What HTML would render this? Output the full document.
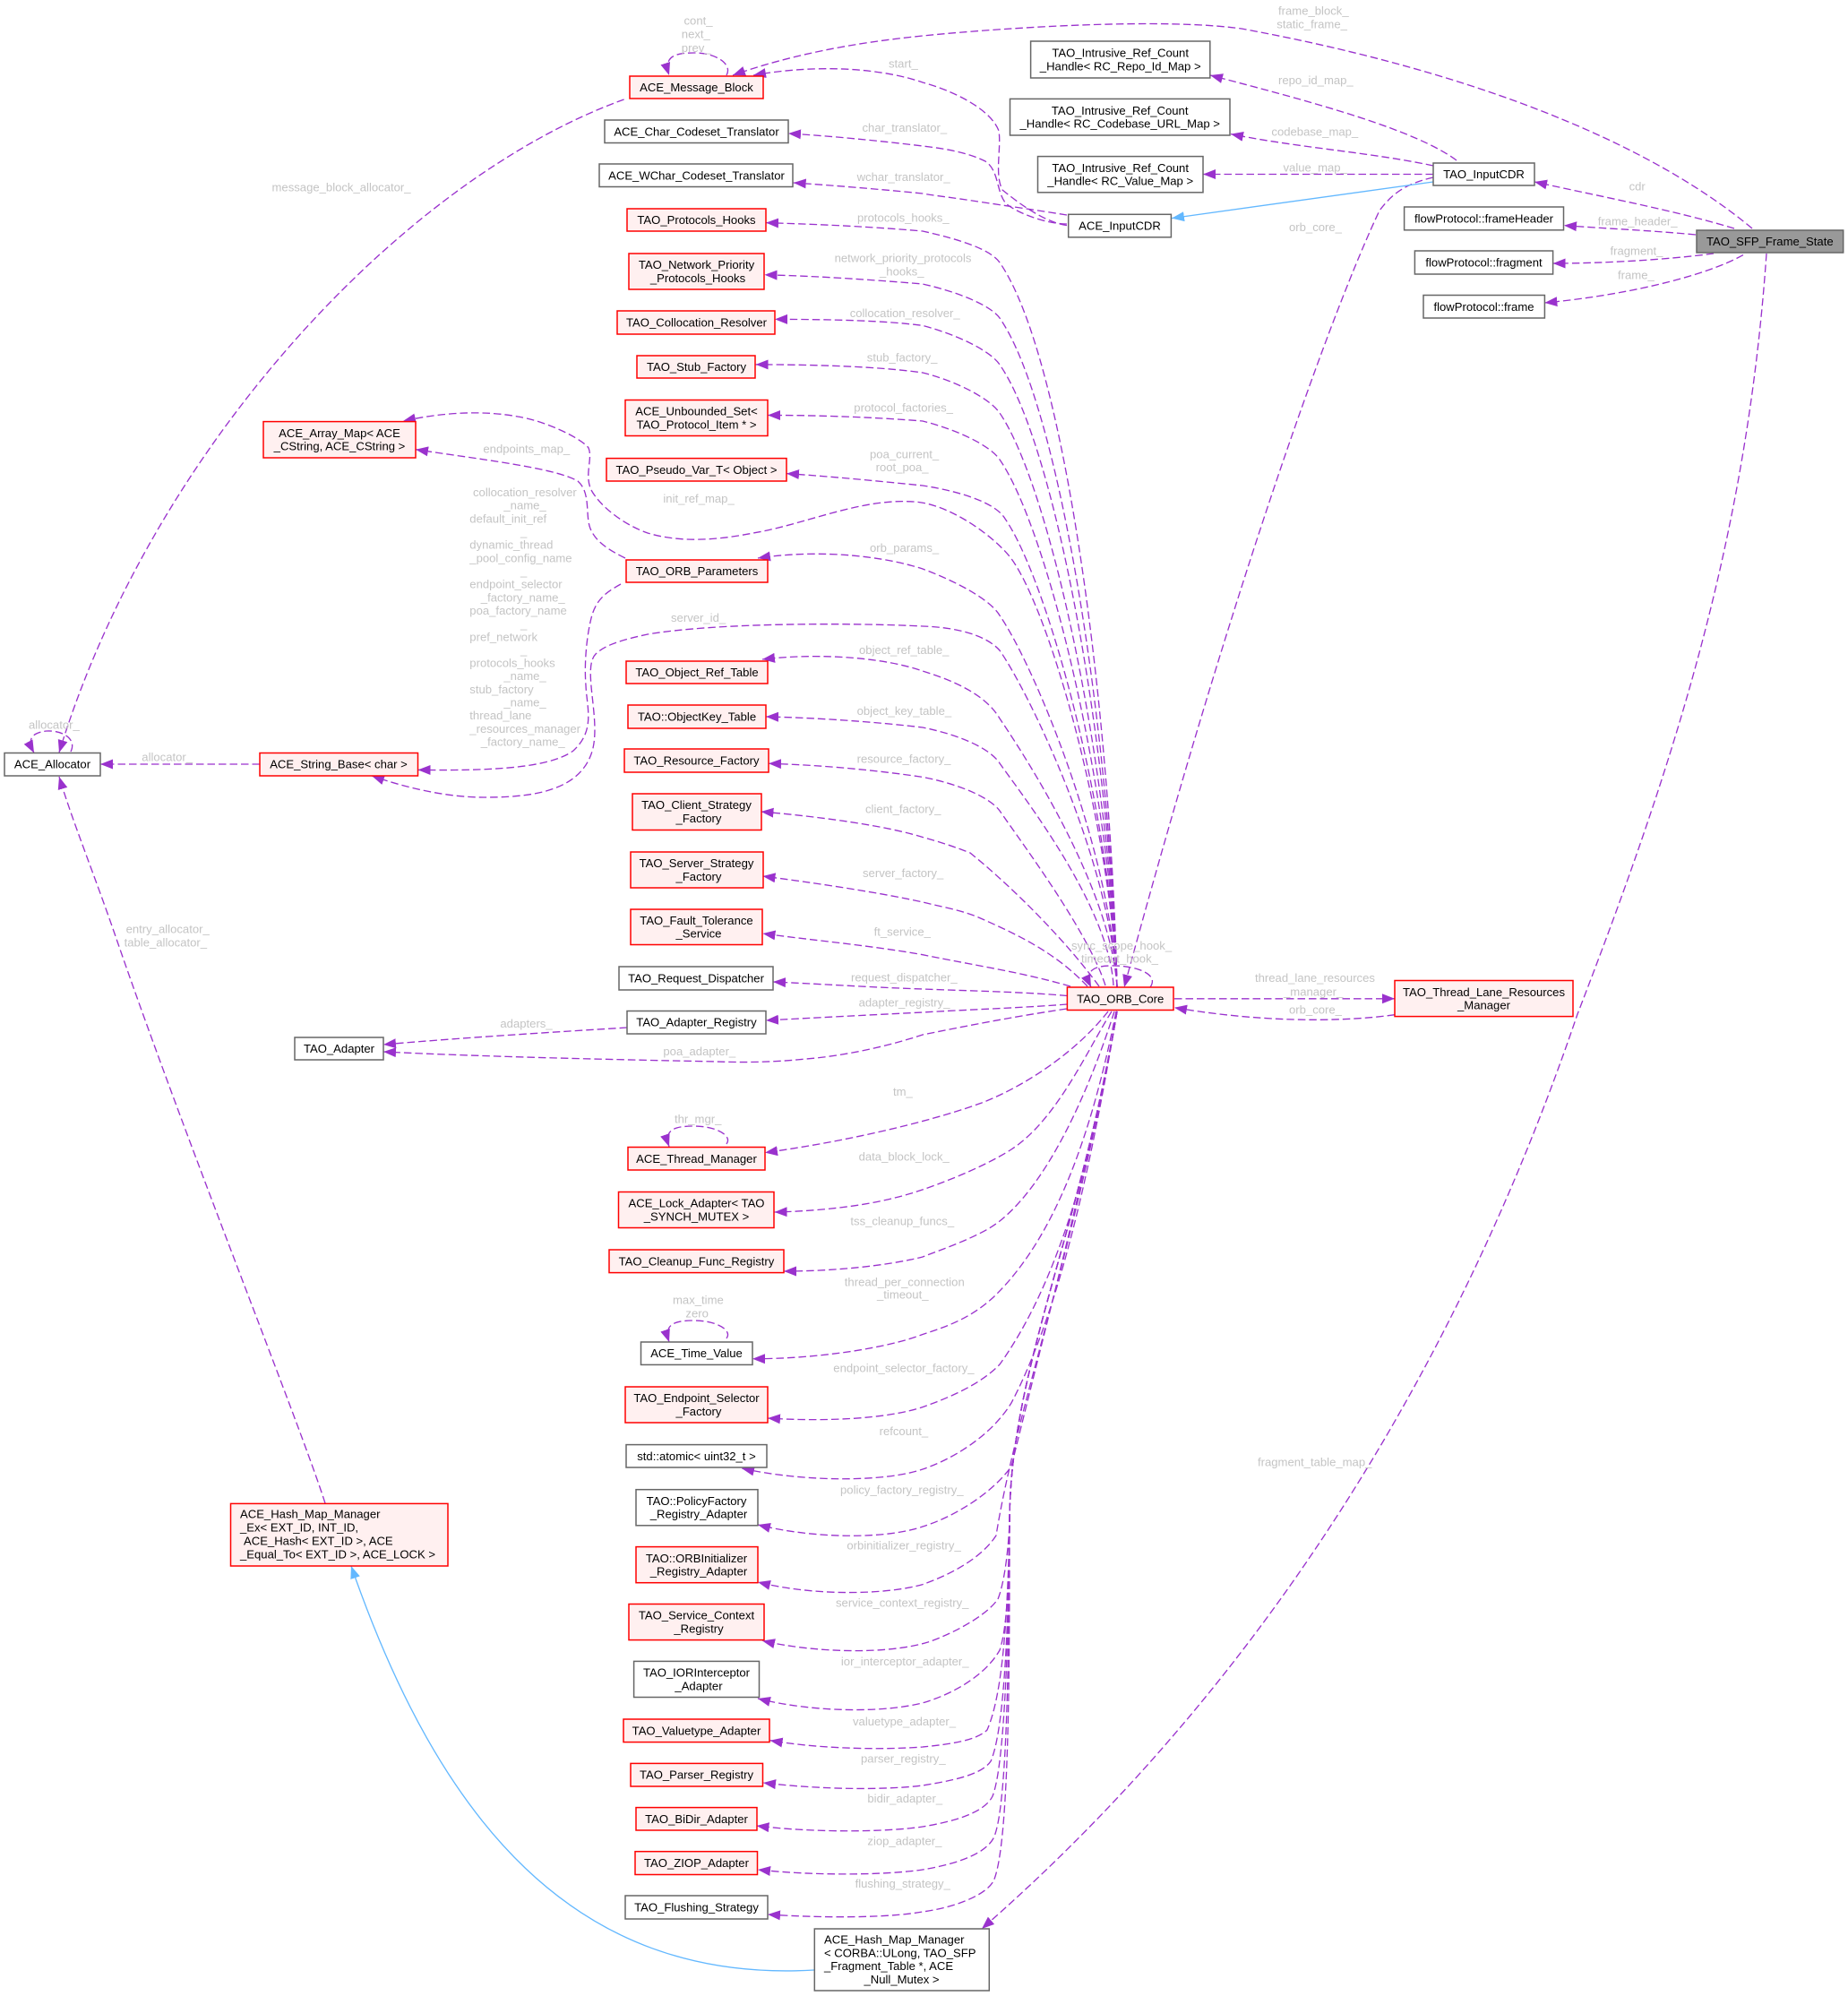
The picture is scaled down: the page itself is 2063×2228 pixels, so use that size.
<!DOCTYPE html>
<html><head><meta charset="utf-8"><title>TAO_SFP_Frame_State</title>
<style>
html,body{margin:0;padding:0;background:#fff}
svg{display:block}
text{font-family:"Liberation Sans",sans-serif;font-size:13.1px}
.n text{text-anchor:middle;fill:#000}
.l text{fill:#c4c4c4}
.r{fill:#fff0f0;stroke:#ff0000;stroke-width:1.5}
.w{fill:#fff;stroke:#666;stroke-width:1.5}
.e path{fill:none;stroke:#9a32cd;stroke-width:1.33;stroke-dasharray:8.5 4;marker-end:url(#p)}
.b path{fill:none;stroke:#63b8ff;stroke-width:1.33;marker-end:url(#q)}
</style></head><body>
<svg xmlns="http://www.w3.org/2000/svg" width="2063" height="2228" viewBox="0 0 2063 2228">
<defs>
<marker id="p" markerUnits="userSpaceOnUse" markerWidth="16" markerHeight="13" refX="14" refY="6" orient="auto"><path d="M0 .5L14 6L0 11.5z" fill="#9a32cd"/></marker>
<marker id="q" markerUnits="userSpaceOnUse" markerWidth="16" markerHeight="13" refX="14" refY="6" orient="auto"><path d="M0 .5L14 6L0 11.5z" fill="#63b8ff"/></marker>
</defs>
<rect width="2063" height="2228" fill="#fff"/>
<g class="e">
<path d="M1956 255C1830 150 1620 75 1386 32C1300 20 1130 30 1030 40C950 48 880 62 818 84"/>
<path d="M1191 251.6C1165 248 1135 225 1119 212C1110 195 1118 165 1115 146C1105 120 1060 100 1030 92C990 78 920 70 841 84"/>
<path d="M811 84C818 72 800 59 775 59C755 59 740 62 747 84"/>
<path d="M1191 250C1165 250 1130 235 1122 226C1112 212 1115 190 1100 180C1080 170 1055 166 1030 163C980 157 930 152 880 149"/>
<path d="M1191 240C1160 235 1125 230 1096 225.6C1060 220 1040 218 1030 216C980 211 930 207 885.7 204"/>
<path d="M1626 179C1580 145 1470 115 1351 84"/>
<path d="M1600 185C1530 170 1450 165 1374 149.6"/>
<path d="M1600 194.5L1343 194.5"/>
<path d="M1600 198C1570 205 1555 215 1540 235C1490 340 1380 640 1255 1102"/>
<path d="M1936 255C1870 235 1790 220 1713 203"/>
<path d="M1893 262C1840 257 1790 255 1746 251.6"/>
<path d="M1913 283C1860 290 1790 294 1733.6 294"/>
<path d="M1946 284.6C1900 310 1810 330 1724.4 338"/>
<path d="M1972 283C1950 600 1870 850 1761 1132C1680 1370 1500 1800 1096 2153"/>
<path d="M1311 1114.8L1557 1114.8"/>
<path d="M1557 1132.7C1490 1142 1400 1140 1311 1124.7"/>
<path d="M1284 1102C1296 1085 1260 1077 1240 1078C1220 1078 1210 1085 1218 1102"/>

<path d="M1247 1102C1240 801 1190 400 1116 293C1106 279 1075 268 1030 258C960 252 900 250 855 248.6"/>
<path d="M1247 1102C1240 826 1184 453 1116 355C1106 341 1070 326 1030 317C970 312 910 308 853.5 306.8"/>
<path d="M1247 1102C1240 845 1180 499 1116 407C1106 392 1070 374 1030 363.4C990 358 930 356.4 865 356.4"/>
<path d="M1247 1102C1240 865 1174 546 1116 461C1106 446 1070 426 1030 416C980 409 910 407 843.6 406.9"/>
<path d="M1247 1102C1240 884 1170 591 1116 513C1106 498 1070 480 1030 470C980 466 920 463.5 857 463.5"/>
<path d="M1247 1102C1240 908 1170 649 1122 579C1112 562 1075 549 1030 542C980 537 930 532 878 528.6"/>
<path d="M1247 1102C1240 925 1174 688 1130 625C1112 600 1060 562 1020 560C960 556 900 585 841 595C800 603 760 606 723 595C695 585 670 565 660 547C652 530 662 512 657 500C650 490 610 470 578 465C540 458 495 460 450 470"/>
<path d="M1247 1102C1240 948 1154 742 1116 687C1106 670 1070 650 1030 635C990 622 920 612 846 623"/>
<path d="M1247 1102C1240 963 1150 775 1116 726C1100 708 1065 700 1030 699C950 695 800 695 723 708C695 714 675 720 665 730C650 745 670 800 662 835C650 885 590 890 540 890C500 890 455 880 415 866"/>
<path d="M693 652C675 662 665 670 660 690C655 710 652 740 654 765C655 790 665 815 640 838C610 860 530 860 466.5 859.4"/>
<path d="M698 623C680 614 665 605 659 590C653 575 660 550 645 537C620 522 530 512 464 501.7"/>
<path d="M1247 1102C1240 990 1143 842 1116 802C1100 775 1065 760 1030 749C990 735 920 728 851 736"/>
<path d="M1243 1100C1238 1010 1139 885 1116 852C1105 835 1070 820 1030 812C980 806 910 801 855 800"/>
<path d="M1234 1100C1215 1040 1140 940 1116 905C1105 890 1070 875 1030 867.4C980 860 920 854 858 852.3"/>
<path d="M1227 1101C1190 1050 1130 990 1083 952C1065 945 1050 940 1030 934.5C990 922 920 912 849.5 906"/>
<path d="M1214 1101C1180 1065 1140 1045 1096 1025.6C1075 1016 1050 1012 1030 1007C1000 1000 930 988 851.5 978"/>
<path d="M1195 1101C1140 1085 1090 1078 1030 1065.7C970 1055 910 1050 851.5 1042"/>
<path d="M1191.4 1111.5C1140 1107 1080 1106 1030 1104C970 1102 910 1098 863 1096"/>
<path d="M1191.4 1121C1140 1125 1080 1127 1030 1130C970 1133 910 1136 855 1139"/>
<path d="M1191 1126C1130 1135 1080 1145 1030 1155C1000 1165 950 1178 900 1182C860 1186 830 1186 800 1185C700 1183 550 1180 428 1174"/>
<path d="M700 1147C620 1152 520 1158 428 1166"/>

<path d="M1237 1129C1205 1170 1150 1210 1096 1231C1050 1248 960 1272 854 1286.6"/>
<path d="M1241 1129C1215 1170 1180 1250 1129 1283C1095 1305 1030 1330 999 1337C960 1347 910 1352 864.6 1353"/>
<path d="M1244 1129C1215 1220 1170 1320 1116 1363C1095 1380 1050 1395 1030 1403C990 1413 930 1419 875 1419"/>
<path d="M1246 1129C1220 1260 1180 1380 1109 1448C1085 1470 1060 1480 1030 1489.5C990 1505 910 1517 840 1516.7"/>
<path d="M1247 1129C1225 1260 1190 1420 1116 1523C1095 1545 1060 1560 1030 1570.6C990 1584 920 1587 857 1583"/>
<path d="M1247 1129C1225 1260 1190 1450 1129 1566C1105 1605 1060 1630 1030 1640C990 1654 900 1655 828 1639"/>
<path d="M1247 1129C1220 1280 1175 1450 1129 1637C1105 1670 1060 1695 1030 1704C990 1718 910 1718 846 1702"/>
<path d="M1247 1129C1205 1380 1135 1570 1112 1714C1095 1740 1060 1758 1030 1768.6C990 1780 910 1782 846 1766"/>
<path d="M1247 1129C1205 1380 1127 1530 1127 1700C1125 1740 1120 1770 1114 1785C1100 1805 1060 1825 1036 1833C990 1847 910 1845 851 1831.5"/>
<path d="M1247 1129C1205 1380 1127 1530 1127 1700C1126 1760 1125 1815 1116 1842C1100 1870 1065 1890 1033 1900C990 1912 910 1912 846 1896"/>
<path d="M1247 1129C1205 1380 1127 1530 1127 1700C1125 1800 1120 1890 1102 1931C1090 1943 1060 1947 1030 1950C990 1953 920 1953 859.6 1942.7"/>
<path d="M1247 1129C1205 1380 1127 1530 1127 1700C1126 1800 1122 1930 1106 1966C1095 1982 1060 1988 1030 1993C990 1998 920 1998 852 1990"/>
<path d="M1247 1129C1205 1380 1127 1530 1127 1700C1126 1820 1122 1970 1108 2005C1098 2025 1060 2034 1030 2039C990 2045 910 2046 844.5 2038"/>
<path d="M1247 1129C1205 1380 1127 1530 1127 1700C1126 1840 1125 2020 1109 2052C1098 2072 1060 2082 1030 2087C990 2093 910 2094 846 2087"/>
<path d="M1247 1129C1205 1380 1127 1530 1127 1700C1127 1860 1127 2060 1109 2100C1098 2118 1060 2130 1030 2134C990 2141 920 2141 857 2137"/>

<path d="M811 1277C818 1268 800 1257 775 1257C755 1257 740 1260 747 1280"/>
<path d="M811 1494C818 1485 800 1474 775 1474C755 1474 740 1477 747 1498"/>
<path d="M79 839C86 825 70 815 52 816C35 818 30 825 38 840.5"/>
<path d="M696.6 111C450 200 170 500 66 840"/>
<path d="M363 1678C335 1590 210 1280 131 1051C105 975 82 920 66 867"/>
<path d="M290 853L112 853"/>
</g>
<g class="b">
<path d="M1600 203L1308 243.6"/>
<path d="M909 2199C640 2215 490 2030 392 1748"/>
</g>

<g class="l">
<text x="763.5" y="27.6">cont_</text><text x="760.8" y="42.4">next_</text><text x="760.8" y="58">prev_</text>
<text x="303.5" y="213.7">message_block_allocator_</text>
<text x="992" y="75.4">start_</text>
<text x="962.5" y="147">char_translator_</text>
<text x="956.6" y="202">wchar_translator_</text>
<text x="957" y="247.7">protocols_hooks_</text>
<text x="931.6" y="292.6">network_priority_protocols</text>
<text x="982" y="307.6">_hooks_</text>
<text x="948.7" y="354">collocation_resolver_</text>
<text x="967.8" y="403.4">stub_factory_</text>
<text x="953.3" y="459.6">protocol_factories_</text>
<text x="971" y="511.5">poa_current_</text>
<text x="977.6" y="526">root_poa_</text>
<text x="740.4" y="561">init_ref_map_</text>
<text x="539.4" y="505.7">endpoints_map_</text>
<text x="971" y="615.8">orb_params_</text>
<text x="749" y="694">server_id_</text>
<text x="959" y="730">object_ref_table_</text>
<text x="528" y="554">collocation_resolver</text>
<text x="562.4" y="568.7">_name_</text>
<text x="524.3" y="583.3">default_init_ref</text>
<text x="581" y="598">_</text>
<text x="524.3" y="612.5">dynamic_thread</text>
<text x="524.3" y="627.6">_pool_config_name</text>
<text x="581" y="641.8">_</text>
<text x="524.3" y="656.5">endpoint_selector</text>
<text x="536.8" y="671.5">_factory_name_</text>
<text x="524.3" y="685.8">poa_factory_name</text>
<text x="581" y="700.8">_</text>
<text x="524.3" y="715.4">pref_network</text>
<text x="581" y="730">_</text>
<text x="524.3" y="744.7">protocols_hooks</text>
<text x="562.4" y="759">_name_</text>
<text x="524.3" y="773.8">stub_factory</text>
<text x="562.4" y="788.5">_name_</text>
<text x="524.3" y="803">thread_lane</text>
<text x="524.3" y="818">_resources_manager</text>
<text x="536.8" y="832.4">_factory_name_</text>
<text x="32" y="813.6">allocator_</text>
<text x="158.3" y="849.4">allocator_</text>
<text x="956.6" y="798">object_key_table_</text>
<text x="956.6" y="851.3">resource_factory_</text>
<text x="966" y="907.4">client_factory_</text>
<text x="963" y="979">server_factory_</text>
<text x="975.6" y="1044.4">ft_service_</text>
<text x="950" y="1095.3">request_dispatcher_</text>
<text x="958.6" y="1123.6">adapter_registry_</text>
<text x="558.4" y="1147.2">adapters_</text>
<text x="740.4" y="1178">poa_adapter_</text>
<text x="997" y="1223.2">tm_</text>
<text x="753" y="1253.4">thr_mgr_</text>
<text x="958.6" y="1295.4">data_block_lock_</text>
<text x="949.4" y="1367.6">tss_cleanup_funcs_</text>
<text x="942.8" y="1435.6">thread_per_connection</text>
<text x="979" y="1449.3">_timeout_</text>
<text x="751" y="1455.4">max_time</text>
<text x="765.4" y="1470.5">zero</text>
<text x="140.6" y="1041.6">entry_allocator_</text>
<text x="138.6" y="1056.6">table_allocator_</text>
<text x="930.3" y="1531.3">endpoint_selector_factory_</text>
<text x="981.6" y="1602">refcount_</text>
<text x="938" y="1667.3">policy_factory_registry_</text>
<text x="945.4" y="1729.3">orbinitializer_registry_</text>
<text x="933" y="1793.7">service_context_registry_</text>
<text x="938.9" y="1859">ior_interceptor_adapter_</text>
<text x="952" y="1925.8">valuetype_adapter_</text>
<text x="961" y="1967.3">parser_registry_</text>
<text x="968.4" y="2012.2">bidir_adapter_</text>
<text x="968.4" y="2059.4">ziop_adapter_</text>
<text x="954.6" y="2107">flushing_strategy_</text>
<text x="1427" y="16.4">frame_block_</text>
<text x="1425.3" y="31.5">static_frame_</text>
<text x="1427" y="93.8">repo_id_map_</text>
<text x="1419.4" y="151.4">codebase_map_</text>
<text x="1432.5" y="191.5">value_map_</text>
<text x="1818.6" y="212.3">cdr</text>
<text x="1783.7" y="251.5">frame_header_</text>
<text x="1797.5" y="284.5">fragment_</text>
<text x="1806" y="311.4">frame_</text>
<text x="1439" y="258">orb_core_</text>
<text x="1196" y="1060">sync_scope_hook_</text>
<text x="1207" y="1074.6">timeout_hook_</text>
<text x="1401" y="1096.2">thread_lane_resources</text>
<text x="1433" y="1111.3">_manager_</text>
<text x="1439" y="1131.7">orb_core_</text>
<text x="1404" y="1636.3">fragment_table_map_</text>
</g>

<g class="n">
<rect class="r" x="703" y="85" width="149" height="25"/><text x="777.5" y="102">ACE_Message_Block</text>
<rect class="w" x="675" y="134" width="205" height="25.5"/><text x="777.5" y="151.5">ACE_Char_Codeset_Translator</text>
<rect class="w" x="669" y="183" width="216" height="25.5"/><text x="777.5" y="200.5">ACE_WChar_Codeset_Translator</text>
<rect class="r" x="700" y="233" width="155" height="25"/><text x="777.5" y="250">TAO_Protocols_Hooks</text>
<rect class="r" x="702" y="283" width="151" height="40"/><text x="777.5" y="300">TAO_Network_Priority</text><text x="779" y="314.8">_Protocols_Hooks</text>
<rect class="r" x="689" y="347" width="176" height="26"/><text x="777.5" y="364.5">TAO_Collocation_Resolver</text>
<rect class="r" x="711" y="397" width="132" height="25"/><text x="777.5" y="414">TAO_Stub_Factory</text>
<rect class="r" x="698" y="446.5" width="159" height="40"/><text x="777.5" y="463.7">ACE_Unbounded_Set&lt;</text><text x="777.5" y="478.3">TAO_Protocol_Item * &gt;</text>
<rect class="r" x="677" y="511.6" width="201" height="25.4"/><text x="777.5" y="529">TAO_Pseudo_Var_T&lt; Object &gt;</text>
<rect class="r" x="294" y="470.6" width="170" height="40.4"/><text x="379" y="488">ACE_Array_Map&lt; ACE</text><text x="379" y="502.6">_CString, ACE_CString &gt;</text>
<rect class="r" x="699" y="625" width="158" height="25"/><text x="778" y="642">TAO_ORB_Parameters</text>
<rect class="r" x="699" y="738" width="158" height="25"/><text x="778" y="755">TAO_Object_Ref_Table</text>
<rect class="r" x="701" y="787" width="154" height="26"/><text x="778" y="804.5">TAO::ObjectKey_Table</text>
<rect class="r" x="697" y="836" width="161" height="26"/><text x="777.5" y="853.5">TAO_Resource_Factory</text>
<rect class="r" x="706" y="886" width="144" height="40.5"/><text x="777.5" y="903.2">TAO_Client_Strategy</text><text x="780" y="917.8">_Factory</text>
<rect class="r" x="704" y="951" width="148" height="40"/><text x="777.5" y="968.2">TAO_Server_Strategy</text><text x="780" y="982.8">_Factory</text>
<rect class="r" x="704" y="1015" width="147" height="39.5"/><text x="777.5" y="1032">TAO_Fault_Tolerance</text><text x="780" y="1046.5">_Service</text>
<rect class="w" x="691" y="1079" width="172" height="26"/><text x="777" y="1096.5">TAO_Request_Dispatcher</text>
<rect class="w" x="700" y="1128.5" width="155" height="25.5"/><text x="777.5" y="1145.7">TAO_Adapter_Registry</text>
<rect class="w" x="329" y="1158" width="99" height="25"/><text x="378.5" y="1175">TAO_Adapter</text>
<rect class="w" x="5" y="840.5" width="107" height="25.5"/><text x="58.5" y="857.7">ACE_Allocator</text>
<rect class="r" x="290" y="840.5" width="176.5" height="25.5"/><text x="378" y="857.7">ACE_String_Base&lt; char &gt;</text>
<rect class="r" x="701" y="1280.5" width="153" height="25.5"/><text x="777.5" y="1298">ACE_Thread_Manager</text>
<rect class="r" x="690.5" y="1330.5" width="173.5" height="40"/><text x="777.5" y="1347.7">ACE_Lock_Adapter&lt; TAO</text><text x="777.5" y="1362.3">_SYNCH_MUTEX &gt;</text>
<rect class="r" x="680" y="1395" width="195" height="25.6"/><text x="777.5" y="1412.5">TAO_Cleanup_Func_Registry</text>
<rect class="w" x="715.5" y="1498" width="124.5" height="25.4"/><text x="777.5" y="1515.2">ACE_Time_Value</text>
<rect class="r" x="698" y="1548" width="159" height="40"/><text x="777.5" y="1565.2">TAO_Endpoint_Selector</text><text x="780" y="1579.8">_Factory</text>
<rect class="w" x="699" y="1612.6" width="157" height="25.4"/><text x="777.5" y="1630">std::atomic&lt; uint32_t &gt;</text>
<rect class="w" x="710" y="1662.7" width="136" height="40.1"/><text x="777.5" y="1680">TAO::PolicyFactory</text><text x="780" y="1694.6">_Registry_Adapter</text>
<rect class="r" x="710" y="1726.6" width="136" height="40.1"/><text x="777.5" y="1744">TAO::ORBInitializer</text><text x="780" y="1758.6">_Registry_Adapter</text>
<rect class="r" x="702" y="1790.5" width="151" height="40.1"/><text x="777.5" y="1807.7">TAO_Service_Context</text><text x="780" y="1822.3">_Registry</text>
<rect class="w" x="707.6" y="1854.4" width="139.9" height="40.1"/><text x="777.5" y="1871.7">TAO_IORInterceptor</text><text x="780" y="1886.3">_Adapter</text>
<rect class="r" x="696" y="1919" width="163" height="25.6"/><text x="777.5" y="1936.3">TAO_Valuetype_Adapter</text>
<rect class="r" x="704" y="1968.4" width="147.5" height="25.6"/><text x="777.5" y="1985.7">TAO_Parser_Registry</text>
<rect class="r" x="710" y="2017.6" width="135" height="25.4"/><text x="777.5" y="2035">TAO_BiDir_Adapter</text>
<rect class="r" x="709" y="2066.7" width="136.5" height="25.8"/><text x="777.5" y="2084">TAO_ZIOP_Adapter</text>
<rect class="w" x="698" y="2116" width="159" height="26"/><text x="777.5" y="2133.5">TAO_Flushing_Strategy</text>
<rect class="r" x="257.5" y="1678.4" width="242.5" height="69.6"/>
<rect class="w" x="909.3" y="2153" width="195" height="69"/>
<rect class="r" x="1557" y="1094.5" width="199" height="40.1"/><text x="1656.5" y="1111.8">TAO_Thread_Lane_Resources</text><text x="1656.5" y="1126.4">_Manager</text>
<rect class="r" x="1191.4" y="1102" width="118.6" height="25.5"/><text x="1250.7" y="1119.5">TAO_ORB_Core</text>
<rect class="w" x="1150.6" y="46" width="200.2" height="41"/><text x="1250.7" y="63.7">TAO_Intrusive_Ref_Count</text><text x="1250.7" y="78.3">_Handle&lt; RC_Repo_Id_Map &gt;</text>
<rect class="w" x="1127.5" y="110.4" width="245.5" height="40.6"/><text x="1250.2" y="127.9">TAO_Intrusive_Ref_Count</text><text x="1250.2" y="142.5">_Handle&lt; RC_Codebase_URL_Map &gt;</text>
<rect class="w" x="1158.5" y="174.6" width="184.5" height="40.2"/><text x="1250.7" y="191.9">TAO_Intrusive_Ref_Count</text><text x="1250.7" y="206.5">_Handle&lt; RC_Value_Map &gt;</text>
<rect class="w" x="1192.7" y="239.3" width="114.7" height="25.5"/><text x="1250" y="256.6">ACE_InputCDR</text>
<rect class="w" x="1600" y="182" width="113" height="25"/><text x="1656.5" y="199">TAO_InputCDR</text>
<rect class="w" x="1567.6" y="231" width="177.9" height="25.8"/><text x="1656.5" y="248.5">flowProtocol::frameHeader</text>
<rect class="w" x="1579.4" y="280" width="154.2" height="26"/><text x="1656.5" y="297.5">flowProtocol::fragment</text>
<rect class="w" x="1589" y="329.5" width="135.4" height="25.5"/><text x="1656.5" y="346.8">flowProtocol::frame</text>
<rect x="1894" y="257" width="163.7" height="25" fill="#999" stroke="#666" stroke-width="1.5"/><text x="1975.8" y="274">TAO_SFP_Frame_State</text>
</g>
<g style="fill:#000">
<text x="268" y="1694.5">ACE_Hash_Map_Manager</text>
<text x="268" y="1709.5">_Ex&lt; EXT_ID, INT_ID,</text>
<text x="272" y="1724.5">ACE_Hash&lt; EXT_ID &gt;, ACE</text>
<text x="268" y="1739.5">_Equal_To&lt; EXT_ID &gt;, ACE_LOCK &gt;</text>
<text x="920" y="2169.5">ACE_Hash_Map_Manager</text>
<text x="920" y="2184.3">&lt; CORBA::ULong, TAO_SFP</text>
<text x="920" y="2199">_Fragment_Table *, ACE</text>
<text x="964.5" y="2213.8">_Null_Mutex &gt;</text>
</g>
</svg>
</body></html>
